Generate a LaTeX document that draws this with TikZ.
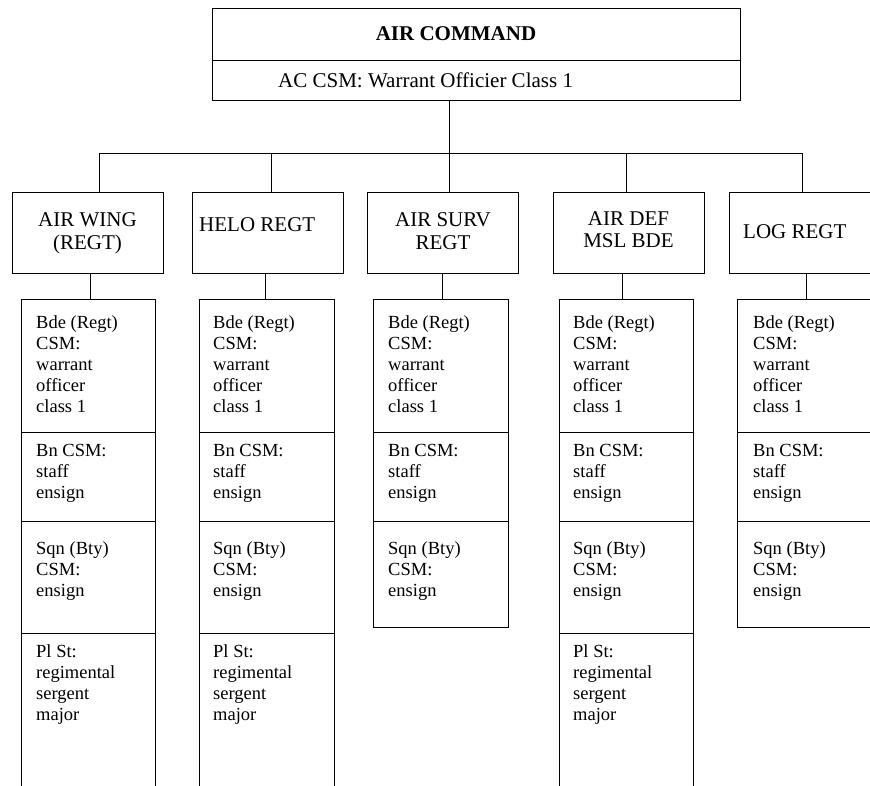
\documentclass[tikz,border=0pt]{standalone}
\usepackage{fontspec}
\setmainfont{Liberation Serif}
\newcommand\myrowsl[1]{\begin{tabular}[t]{@{}l@{}}#1\end{tabular}}
\newcommand\myrowsc[1]{\begin{tabular}[t]{@{}c@{}}#1\end{tabular}}
\tikzset{
  box/.style={draw=black, line width=0.9pt, rectangle, inner sep=0pt, outer sep=0pt, anchor=north west},
  link/.style={draw=black, line width=0.9pt},
  headtxt/.style={inner sep=0pt, font=\fontsize{21}{23.5}\selectfont},
  lowtxt/.style={inner sep=0pt, anchor=base west, font=\fontsize{18.5}{21}\selectfont},
}
\begin{document}
\begin{tikzpicture}[x=1pt, y=-1pt]
\useasboundingbox (0,0) rectangle (870,785);
\clip (0,0) rectangle (870,785);
\fill[white] (0,0) rectangle (870,785);

% top box
\node[box, minimum width=528, minimum height=92] (top) at (212,8) {};
\draw[link] (top.west |- 0,60) -- (top.east |- 0,60);
\node[headtxt, anchor=base, font=\fontsize{21}{23.5}\selectfont\bfseries] (topt) at (456,40) {AIR COMMAND};
\node[headtxt, anchor=base west] (tops) at (278,87) {AC CSM: Warrant Officier Class 1};

% header boxes
\node[box, minimum width=151, minimum height=81] (h1) at (12,192) {};
\node[box, minimum width=151, minimum height=81] (h2) at (192,192) {};
\node[box, minimum width=151, minimum height=81] (h3) at (367,192) {};
\node[box, minimum width=151, minimum height=81] (h4) at (553,192) {};
\node[box, minimum width=151, minimum height=81] (h5) at (729,192) {};

\node[headtxt, anchor=base] (t1) at (87.5,226) {\myrowsc{AIR WING\\(REGT)}};
\node[headtxt, anchor=base west] (t2) at (199,231) {HELO REGT};
\node[headtxt, anchor=base] (t3) at (443,226) {\myrowsc{AIR SURV\\REGT}};
\node[headtxt, anchor=base, font=\fontsize{21}{22.5}\selectfont] (t4) at (628.5,225) {\myrowsc{AIR DEF\\MSL BDE}};
\node[headtxt, anchor=base west] (t5) at (743,238) {LOG REGT};

% bus
\coordinate (b1) at (99,153);
\coordinate (b2) at (271,153);
\coordinate (b3) at (449,153);
\coordinate (b4) at (626,153);
\coordinate (b5) at (802,153);
\draw[link] (b1) -- (b5);
\draw[link] (top.south -| b3) -- (h3.north -| b3);
\draw[link] (b1) -- (h1.north -| b1);
\draw[link] (b2) -- (h2.north -| b2);
\draw[link] (b4) -- (h4.north -| b4);
\draw[link] (b5) -- (h5.north -| b5);

% lower boxes
\node[box, minimum width=134, minimum height=520] (l1) at (21,299) {};
\node[box, minimum width=135, minimum height=520] (l2) at (199,299) {};
\node[box, minimum width=135, minimum height=328] (l3) at (373,299) {};
\node[box, minimum width=134, minimum height=520] (l4) at (559,299) {};
\node[box, minimum width=150, minimum height=328] (l5) at (737,299) {};

\coordinate (c1) at (90,0);
\coordinate (c2) at (265,0);
\coordinate (c3) at (442,0);
\coordinate (c4) at (622,0);
\coordinate (c5) at (806,0);
\draw[link] (h1.south -| c1) -- (l1.north -| c1);
\draw[link] (h2.south -| c2) -- (l2.north -| c2);
\draw[link] (h3.south -| c3) -- (l3.north -| c3);
\draw[link] (h4.south -| c4) -- (l4.north -| c4);
\draw[link] (h5.south -| c5) -- (l5.north -| c5);

% dividers
\foreach \b in {l1,l2,l4}{
  \draw[link] (\b.west |- 0,432) -- (\b.east |- 0,432);
  \draw[link] (\b.west |- 0,521) -- (\b.east |- 0,521);
  \draw[link] (\b.west |- 0,633) -- (\b.east |- 0,633);
}
\foreach \b in {l3,l5}{
  \draw[link] (\b.west |- 0,432) -- (\b.east |- 0,432);
  \draw[link] (\b.west |- 0,521) -- (\b.east |- 0,521);
}

% lower texts
\foreach \x/\n/\full in {36/1/1,213/2/1,388/3/0,573/4/1,753/5/0}{
  \node[lowtxt] (a\n) at (\x,328) {\myrowsl{Bde (Regt)\\CSM:\\warrant\\officer\\class 1}};
  \node[lowtxt] (s\n) at (\x,456) {\myrowsl{Bn CSM:\\staff\\ensign}};
  \node[lowtxt] (q\n) at (\x,554) {\myrowsl{Sqn (Bty)\\CSM:\\ensign}};
  \ifnum\full=1
    \node[lowtxt] (p\n) at (\x,657) {\myrowsl{Pl St:\\regimental\\sergent\\major}};
  \fi
}
\end{tikzpicture}
\end{document}
